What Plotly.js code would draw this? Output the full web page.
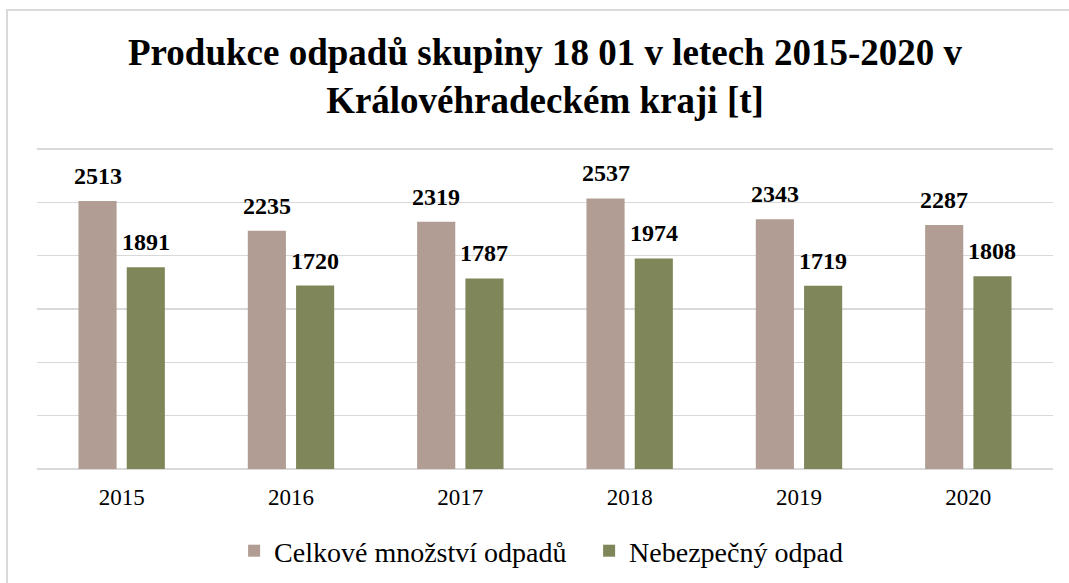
<!DOCTYPE html>
<html>
<head>
<meta charset="utf-8">
<script src="https://cdn.plot.ly/plotly-3.0.1.min.js"></script>
<style>
  html, body { margin: 0; padding: 0; background: #fff; }
  #chart { width: 1069px; height: 583px; position: absolute; left: 0; top: 0; }
  #frame { position: absolute; left: 6px; top: 9px; width: 1100px; height: 620px;
           border: 2px solid #d9d9d9; pointer-events: none; box-sizing: border-box; }
</style>
</head>
<body>
<div id="chart"></div>
<div id="frame"></div>
<script>
const years = ["2015", "2016", "2017", "2018", "2019", "2020"];
const celkove = [2513, 2235, 2319, 2537, 2343, 2287];
const nebezpecny = [1891, 1720, 1787, 1974, 1719, 1808];
const seriesNames = ["Celkové množství odpadů", "Nebezpečný odpad"];
const seriesColors = ["#b19d93", "#7f8659"];
const titleText = "Produkce odpadů skupiny 18 01 v letech 2015-2020 v<br>Královéhradeckém kraji [t]";

const serif = "Liberation Serif";

const traces = [
  { type: "bar", name: seriesNames[0], x: years, y: celkove,
    marker: { color: seriesColors[0] } },
  { type: "bar", name: seriesNames[1], x: years, y: nebezpecny,
    marker: { color: seriesColors[1] } }
];

const annotations = [];
const seriesData = [celkove, nebezpecny];
const shifts = [-24, 24];
seriesData.forEach((vals, s) => {
  vals.forEach((v, i) => {
    annotations.push({
      x: i, y: v, xref: "x", yref: "y",
      text: String(v), showarrow: false,
      xanchor: "center", yanchor: "bottom",
      xshift: shifts[s], yshift: 10,
      font: { family: serif, size: 24, color: "#000", weight: "bold" }
    });
  });
});

const layout = {
  width: 1069, height: 583,
  font: { family: serif, color: "#000" },
  margin: { l: 37, r: 16, t: 148, b: 114 },
  paper_bgcolor: "rgba(0,0,0,0)",
  plot_bgcolor: "rgba(0,0,0,0)",
  title: {
    text: titleText,
    font: { family: serif, size: 37, color: "#000", weight: "bold" },
    xref: "paper", x: 0.5, xanchor: "center",
    yref: "container", y: 1 - 65 / 583, yanchor: "top"
  },
  barmode: "group",
  bargap: 0.43,
  bargroupgap: 0.21,
  xaxis: {
    type: "category",
    range: [-0.5, years.length - 0.5],
    tickfont: { family: serif, size: 23, color: "#000" },
    ticks: "", ticklabelstandoff: 12,
    showgrid: false, showline: false, zeroline: false,
    automargin: false
  },
  yaxis: {
    range: [0, 3010], tickvals: [500, 1000, 1500, 2000, 2500, 3000],
    showticklabels: false, ticks: "",
    showgrid: true, gridcolor: "#d9d9d9", gridwidth: 1.5,
    zeroline: true, zerolinecolor: "#d9d9d9", zerolinewidth: 2,
    showline: false, automargin: false
  },
  showlegend: true,
  legend: {
    orientation: "h",
    x: 0.194, xanchor: "left",
    yref: "container", y: 1 - 551 / 583, yanchor: "middle",
    font: { family: serif, size: 28, color: "#000" },
    traceorder: "normal",
    entrywidth: 310
  },
  annotations: annotations
};

Plotly.newPlot("chart", traces, layout, { displayModeBar: false, staticPlot: true });
</script>
</body>
</html>
